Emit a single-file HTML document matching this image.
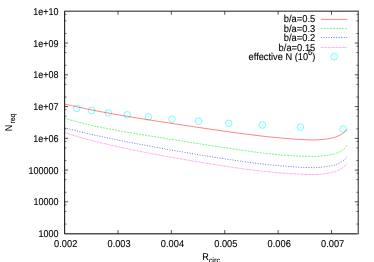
<!DOCTYPE html>
<html><head><meta charset="utf-8"><title>plot</title><style>html,body{margin:0;padding:0;background:#fff;overflow:hidden}svg text{font-family:"Liberation Sans",sans-serif;text-rendering:geometricPrecision}</style></head><body><svg width="374" height="262" viewBox="0 0 374 262" style="display:block;will-change:transform">
<rect width="374" height="262" fill="#fff"/>
<g fill="none" stroke="#00ffff" stroke-width="1" stroke-opacity="0.55">
<circle cx="76.70" cy="108.40" r="3.3"/>
<circle cx="91.60" cy="110.45" r="3.3"/>
<circle cx="108.30" cy="112.80" r="3.3"/>
<circle cx="127.25" cy="114.80" r="3.3"/>
<circle cx="148.40" cy="116.80" r="3.3"/>
<circle cx="172.05" cy="119.15" r="3.3"/>
<circle cx="198.55" cy="121.10" r="3.3"/>
<circle cx="228.70" cy="123.35" r="3.3"/>
<circle cx="262.40" cy="125.10" r="3.3"/>
<circle cx="300.50" cy="127.15" r="3.3"/>
<circle cx="343.15" cy="129.10" r="3.3"/>
<circle cx="334.20" cy="56.75" r="3.3"/>
</g>
<g fill="#00ffff" fill-opacity="0.3">
<circle cx="76.70" cy="108.40" r="0.6"/>
<circle cx="91.60" cy="110.45" r="0.6"/>
<circle cx="108.30" cy="112.80" r="0.6"/>
<circle cx="127.25" cy="114.80" r="0.6"/>
<circle cx="148.40" cy="116.80" r="0.6"/>
<circle cx="172.05" cy="119.15" r="0.6"/>
<circle cx="198.55" cy="121.10" r="0.6"/>
<circle cx="228.70" cy="123.35" r="0.6"/>
<circle cx="262.40" cy="125.10" r="0.6"/>
<circle cx="300.50" cy="127.15" r="0.6"/>
<circle cx="343.15" cy="129.10" r="0.6"/>
<circle cx="334.20" cy="56.75" r="0.6"/>
</g>
<g fill="none" stroke-width="0.80">
<path d="M64.60,103.99 C66.50,104.43 72.10,105.77 76.00,106.64 C79.90,107.51 84.00,108.37 88.00,109.19 C92.00,110.01 96.00,110.78 100.00,111.54 C104.00,112.30 108.00,113.02 112.00,113.73 C116.00,114.44 120.00,115.12 124.00,115.80 C128.00,116.48 132.00,117.14 136.00,117.79 C140.00,118.44 144.00,119.08 148.00,119.71 C152.00,120.34 156.00,120.97 160.00,121.59 C164.00,122.21 168.00,122.82 172.00,123.43 C176.00,124.04 180.00,124.66 184.00,125.26 C188.00,125.87 192.00,126.47 196.00,127.06 C200.00,127.66 204.00,128.25 208.00,128.83 C212.00,129.42 216.00,130.00 220.00,130.57 C224.00,131.14 228.00,131.71 232.00,132.26 C236.00,132.81 240.00,133.35 244.00,133.87 C248.00,134.39 252.00,134.90 256.00,135.38 C260.00,135.86 264.00,136.33 268.00,136.76 C272.00,137.19 276.00,137.59 280.00,137.95 C284.00,138.31 288.17,138.66 292.00,138.93 C295.83,139.20 299.55,139.41 303.00,139.59 C306.45,139.77 309.53,140.01 312.70,140.00 C315.87,139.99 319.33,139.72 322.00,139.50 C324.67,139.28 326.47,139.10 328.70,138.70 C330.93,138.30 333.38,137.77 335.40,137.10 C337.42,136.43 339.47,135.38 340.80,134.70 C342.13,134.02 342.55,133.72 343.40,133.00 C344.25,132.28 345.35,131.00 345.90,130.40 C346.45,129.80 346.57,129.57 346.70,129.40" stroke="#ff0000" stroke-opacity="0.6"/>
<path d="M64.60,118.31 C66.50,118.84 72.10,120.48 76.00,121.50 C79.90,122.52 84.00,123.52 88.00,124.45 C92.00,125.38 96.00,126.25 100.00,127.08 C104.00,127.91 108.00,128.69 112.00,129.45 C116.00,130.21 120.00,130.93 124.00,131.64 C128.00,132.35 132.00,133.02 136.00,133.69 C140.00,134.36 144.00,135.01 148.00,135.66 C152.00,136.31 156.00,136.95 160.00,137.58 C164.00,138.22 168.00,138.84 172.00,139.47 C176.00,140.10 180.00,140.73 184.00,141.36 C188.00,141.99 192.00,142.62 196.00,143.25 C200.00,143.88 204.00,144.51 208.00,145.13 C212.00,145.75 216.00,146.38 220.00,146.99 C224.00,147.60 228.00,148.22 232.00,148.81 C236.00,149.40 240.00,149.99 244.00,150.55 C248.00,151.11 252.00,151.66 256.00,152.17 C260.00,152.68 264.00,153.18 268.00,153.62 C272.00,154.06 276.00,154.48 280.00,154.83 C284.00,155.18 288.17,155.50 292.00,155.73 C295.83,155.96 299.10,156.10 303.00,156.21 C306.90,156.32 311.78,156.49 315.40,156.40 C319.02,156.31 321.82,156.03 324.70,155.70 C327.58,155.37 330.47,154.92 332.70,154.40 C334.93,153.88 336.53,153.27 338.10,152.60 C339.67,151.93 340.98,151.12 342.10,150.40 C343.22,149.68 344.02,149.08 344.80,148.30 C345.58,147.52 346.47,146.13 346.80,145.70" stroke="#00e800" stroke-dasharray="1.9 1.15" stroke-opacity="0.68"/>
<path d="M64.60,127.80 C66.50,128.29 72.10,129.77 76.00,130.74 C79.90,131.71 84.00,132.68 88.00,133.61 C92.00,134.54 96.00,135.43 100.00,136.30 C104.00,137.17 108.00,138.01 112.00,138.84 C116.00,139.67 120.00,140.47 124.00,141.26 C128.00,142.05 132.00,142.82 136.00,143.58 C140.00,144.34 144.00,145.08 148.00,145.82 C152.00,146.56 156.00,147.29 160.00,148.01 C164.00,148.73 168.00,149.44 172.00,150.14 C176.00,150.84 180.00,151.53 184.00,152.22 C188.00,152.91 192.00,153.58 196.00,154.25 C200.00,154.92 204.00,155.57 208.00,156.22 C212.00,156.87 216.00,157.50 220.00,158.12 C224.00,158.74 228.00,159.35 232.00,159.94 C236.00,160.53 240.00,161.09 244.00,161.64 C248.00,162.19 252.00,162.72 256.00,163.21 C260.00,163.71 264.00,164.18 268.00,164.61 C272.00,165.04 276.00,165.45 280.00,165.81 C284.00,166.17 288.17,166.49 292.00,166.75 C295.83,167.01 299.10,167.22 303.00,167.36 C306.90,167.50 311.78,167.69 315.40,167.60 C319.02,167.51 321.82,167.15 324.70,166.80 C327.58,166.45 330.47,166.02 332.70,165.50 C334.93,164.98 336.53,164.38 338.10,163.70 C339.67,163.02 340.98,162.13 342.10,161.40 C343.22,160.67 344.02,160.10 344.80,159.30 C345.58,158.50 346.47,157.05 346.80,156.60" stroke="#0000ff" stroke-dasharray="1.05 1.5" stroke-opacity="0.68"/>
<path d="M64.60,132.53 C66.50,133.12 72.10,134.92 76.00,136.08 C79.90,137.24 84.00,138.39 88.00,139.47 C92.00,140.55 96.00,141.57 100.00,142.56 C104.00,143.55 108.00,144.49 112.00,145.40 C116.00,146.31 120.00,147.19 124.00,148.05 C128.00,148.91 132.00,149.73 136.00,150.54 C140.00,151.35 144.00,152.13 148.00,152.90 C152.00,153.67 156.00,154.43 160.00,155.17 C164.00,155.91 168.00,156.63 172.00,157.35 C176.00,158.07 180.00,158.78 184.00,159.47 C188.00,160.16 192.00,160.85 196.00,161.52 C200.00,162.19 204.00,162.85 208.00,163.50 C212.00,164.15 216.00,164.78 220.00,165.40 C224.00,166.02 228.00,166.63 232.00,167.22 C236.00,167.81 240.00,168.37 244.00,168.91 C248.00,169.45 252.00,169.97 256.00,170.45 C260.00,170.93 264.00,171.40 268.00,171.81 C272.00,172.22 276.00,172.60 280.00,172.93 C284.00,173.26 288.17,173.55 292.00,173.77 C295.83,173.99 299.10,174.10 303.00,174.24 C306.90,174.38 311.78,174.69 315.40,174.60 C319.02,174.51 321.82,174.12 324.70,173.70 C327.58,173.28 330.47,172.65 332.70,172.10 C334.93,171.55 336.53,171.07 338.10,170.40 C339.67,169.73 340.98,168.83 342.10,168.10 C343.22,167.37 344.02,166.80 344.80,166.00 C345.58,165.20 346.47,163.75 346.80,163.30" stroke="#ff00ff" stroke-dasharray="2.4 0.4 0.5 0.4" stroke-opacity="0.42"/>
<path d="M320.8,19.4H347.3" stroke="#ff0000" stroke-opacity="0.6"/>
<path d="M320.8,28.45H347.3" stroke="#00e800" stroke-dasharray="1.9 1.15" stroke-opacity="0.68"/>
<path d="M320.8,37.5H347.3" stroke="#0000ff" stroke-dasharray="1.05 1.5" stroke-opacity="0.68"/>
<path d="M320.8,47.4H347.3" stroke="#ff00ff" stroke-dasharray="2.4 0.4 0.5 0.4" stroke-opacity="0.42"/>
</g>
<g fill="none" stroke="#000">
<path d="M64.60,10.70V234.30" stroke-width="1.15" stroke-opacity="0.85"/>
<path d="M65.10,11.20H359.00" stroke-width="1.4" stroke-opacity="0.6"/>
<path d="M358.30,11.90V234.30" stroke-width="1.4" stroke-opacity="0.62"/>
<path d="M65.10,233.80H357.60" stroke-width="1.4" stroke-opacity="0.68"/>
<path d="M64.60,201.84h3.5M358.30,201.84h-3.5M64.60,170.09h3.5M358.30,170.09h-3.5M64.60,138.33h3.5M358.30,138.33h-3.5M64.60,106.57h3.5M358.30,106.57h-3.5M64.60,74.81h3.5M358.30,74.81h-3.5M64.60,43.06h3.5M358.30,43.06h-3.5M117.98,233.60v-3.5M117.98,11.30v3.5M171.36,233.60v-3.5M171.36,11.30v3.5M224.74,233.60v-3.5M224.74,11.30v3.5M278.12,233.60v-3.5M278.12,11.30v3.5M331.50,233.60v-3.5M331.50,11.30v3.5" stroke-width="0.9" stroke-opacity="0.75"/>
<path d="M64.60,224.04h1.9M358.30,224.04h-1.9M64.60,211.40h1.9M358.30,211.40h-1.9M64.60,204.92h1.9M358.30,204.92h-1.9M64.60,192.28h1.9M358.30,192.28h-1.9M64.60,179.65h1.9M358.30,179.65h-1.9M64.60,173.16h1.9M358.30,173.16h-1.9M64.60,160.53h1.9M358.30,160.53h-1.9M64.60,147.89h1.9M358.30,147.89h-1.9M64.60,141.41h1.9M358.30,141.41h-1.9M64.60,128.77h1.9M358.30,128.77h-1.9M64.60,116.13h1.9M358.30,116.13h-1.9M64.60,109.65h1.9M358.30,109.65h-1.9M64.60,97.01h1.9M358.30,97.01h-1.9M64.60,84.37h1.9M358.30,84.37h-1.9M64.60,77.89h1.9M358.30,77.89h-1.9M64.60,65.25h1.9M358.30,65.25h-1.9M64.60,52.62h1.9M358.30,52.62h-1.9M64.60,46.13h1.9M358.30,46.13h-1.9M64.60,33.50h1.9M358.30,33.50h-1.9M64.60,20.86h1.9M358.30,20.86h-1.9M64.60,14.38h1.9M358.30,14.38h-1.9" stroke-width="0.9" stroke-opacity="0.6"/>
</g>
<g font-family="Liberation Sans, sans-serif" font-size="9.0px" fill="#000" stroke="#000" stroke-width="0.1">
<text transform="translate(58.55,237.05) scale(1.000,1.100)" text-anchor="end">1000</text>
<text transform="translate(58.55,205.29) scale(1.000,1.100)" text-anchor="end">10000</text>
<text transform="translate(58.55,173.54) scale(1.000,1.100)" text-anchor="end">100000</text>
<text transform="translate(58.55,141.78) scale(1.000,1.100)" text-anchor="end">1e+06</text>
<text transform="translate(58.55,110.02) scale(1.000,1.100)" text-anchor="end">1e+07</text>
<text transform="translate(58.55,78.26) scale(1.000,1.100)" text-anchor="end">1e+08</text>
<text transform="translate(58.55,46.51) scale(1.000,1.100)" text-anchor="end">1e+09</text>
<text transform="translate(58.55,14.75) scale(1.000,1.100)" text-anchor="end">1e+10</text>
<text transform="translate(65.70,246.70) scale(1.030,1.100)" text-anchor="middle">0.002</text>
<text transform="translate(119.08,246.70) scale(1.030,1.100)" text-anchor="middle">0.003</text>
<text transform="translate(172.46,246.70) scale(1.030,1.100)" text-anchor="middle">0.004</text>
<text transform="translate(225.84,246.70) scale(1.030,1.100)" text-anchor="middle">0.005</text>
<text transform="translate(279.22,246.70) scale(1.030,1.100)" text-anchor="middle">0.006</text>
<text transform="translate(332.60,246.70) scale(1.030,1.100)" text-anchor="middle">0.007</text>
<text transform="translate(315.30,22.20) scale(1.040,1.100)" text-anchor="end">b/a=0.5</text>
<text transform="translate(315.30,31.65) scale(1.040,1.100)" text-anchor="end">b/a=0.3</text>
<text transform="translate(315.30,41.10) scale(1.040,1.100)" text-anchor="end">b/a=0.2</text>
<text transform="translate(315.30,50.55) scale(1.040,1.100)" text-anchor="end">b/a=0.15</text>
<text transform="translate(315.30,60.00) scale(1.027,1.100)" text-anchor="end">effective N (10<tspan font-size="7.3px" dy="-4.75">6</tspan><tspan dy="4.75">)</tspan></text>
<text transform="translate(202.20,260.40) scale(1.000,1.100)" text-anchor="start">R<tspan font-size="7.3px" dy="2">circ</tspan></text>
<text transform="translate(11.50,131.30) rotate(-90) scale(1.000,1.100)" text-anchor="start">N<tspan font-size="6.9px" dy="3" dx="1.3">req</tspan></text>
</g>
</svg></body></html>
